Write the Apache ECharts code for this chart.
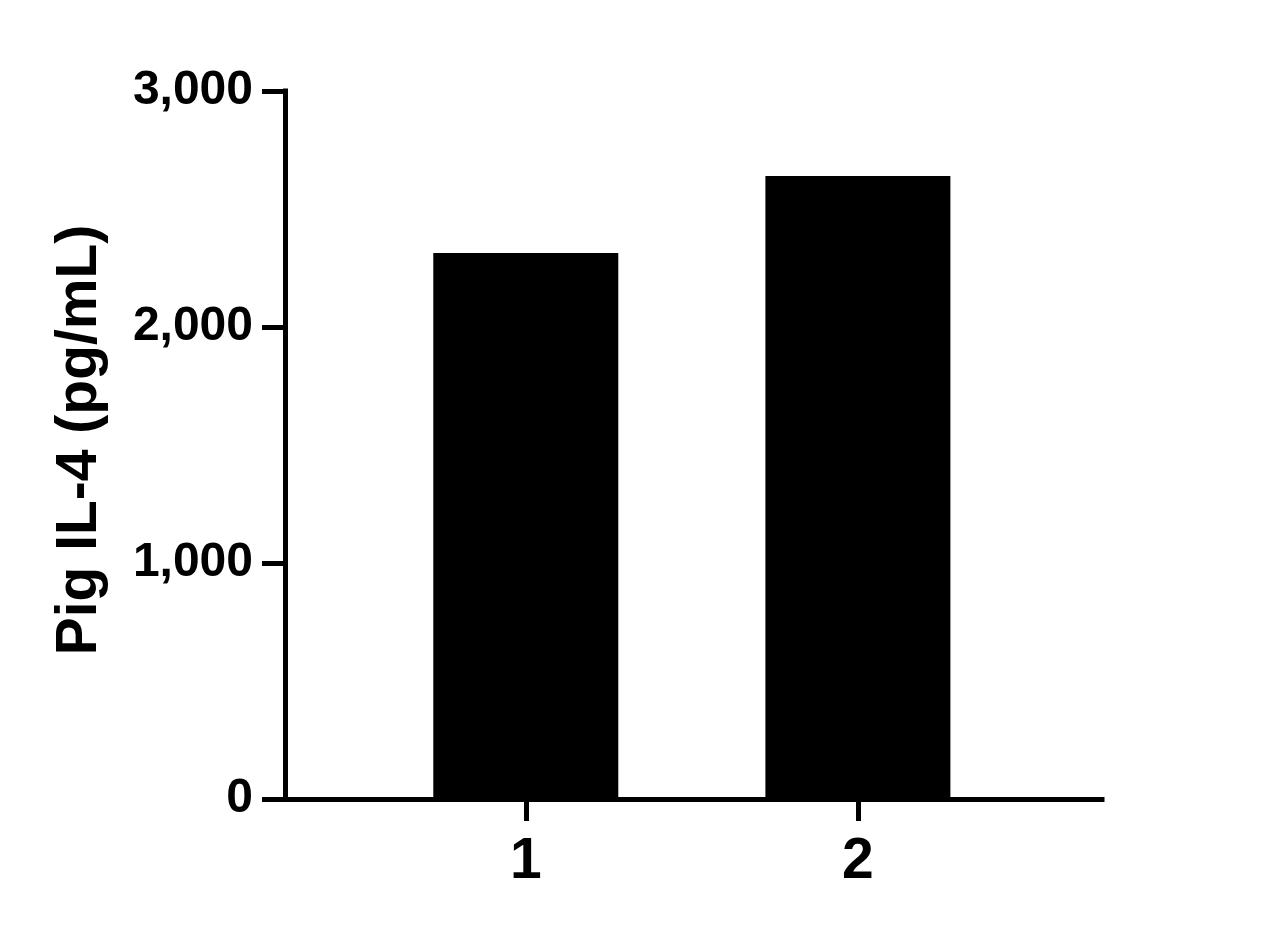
<!DOCTYPE html>
<html>
<head>
<meta charset="utf-8">
<style>
  html, body { margin: 0; padding: 0; background: #fff; }
  #chart { width: 1280px; height: 934px; }
</style>
<script src="https://cdn.jsdelivr.net/npm/echarts@6/dist/echarts.min.js"></script>
</head>
<body>
<div id="chart"></div>
<script>
const categories = [1, 2];
const values = [2314, 2640];
const yTicks = [0, 1000, 2000, 3000];
const yTitle = 'Pig IL-4 (pg/mL)';

const FONT = 'Liberation Sans, Arial, Helvetica, sans-serif';
const chart = echarts.init(document.getElementById('chart'), null, { renderer: 'canvas' });

chart.setOption({
  backgroundColor: '#ffffff',
  animation: false,
  grid: { left: 285, right: 178, top: 91, bottom: 135, containLabel: false },
  xAxis: {
    type: 'value',
    min: 0.275,
    max: 2.735,
    splitLine: { show: false },
    axisLine: { show: true, onZero: false, lineStyle: { color: '#000', width: 5, cap: 'square' } },
    axisTick: { show: true, customValues: categories, length: 22, lineStyle: { color: '#000', width: 5 } },
    axisLabel: {
      show: true, customValues: categories, margin: 35,
      color: '#000', fontFamily: FONT, fontWeight: 'bold', fontSize: 57,
      formatter: v => String(v)
    }
  },
  yAxis: {
    type: 'value',
    min: yTicks[0],
    max: yTicks[yTicks.length - 1],
    interval: 1000,
    splitLine: { show: false },
    axisLine: { show: true, lineStyle: { color: '#000', width: 5, cap: 'square' } },
    axisTick: { show: true, length: 23, lineStyle: { color: '#000', width: 5 } },
    axisLabel: {
      margin: 32, color: '#000', fontFamily: FONT, fontWeight: 'bold', fontSize: 48,
      formatter: v => v.toLocaleString('en-US')
    }
  },
  graphic: [{
    type: 'text',
    x: 80, y: 440,
    rotation: Math.PI / 2,
    style: {
      text: yTitle,
      fill: '#000',
      font: 'bold 57px ' + FONT,
      textAlign: 'center',
      textVerticalAlign: 'middle'
    }
  }],
  series: [{
    type: 'bar',
    data: categories.map((c, i) => [c, values[i]]),
    barWidth: 185,
    itemStyle: { color: '#000' }
  }]
});
</script>
</body>
</html>
